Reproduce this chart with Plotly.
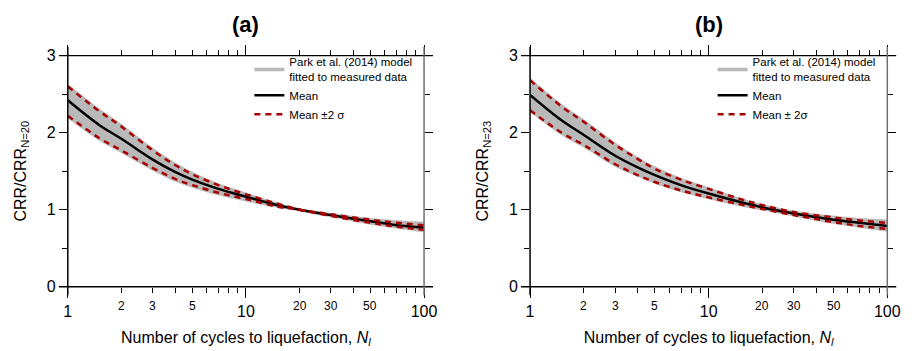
import math
import plotly.graph_objects as go

# ---------------- data ----------------
N = [1, 1.5, 2, 3, 4, 5, 7, 10, 15, 20, 30, 50, 70, 100]

# panel (a) – normalised to N = 20
a_mean  = [2.42, 2.10, 1.92, 1.65, 1.49, 1.39, 1.27, 1.17, 1.06, 1.00, 0.93, 0.85, 0.80, 0.77]
a_upper = [2.60, 2.28, 2.08, 1.77, 1.58, 1.46, 1.32, 1.20, 1.08, 1.00, 0.94, 0.87, 0.83, 0.80]
a_lower = [2.22, 1.93, 1.77, 1.54, 1.40, 1.32, 1.22, 1.14, 1.04, 1.00, 0.92, 0.83, 0.78, 0.74]
a_band_hi = [2.63, 2.31, 2.11, 1.80, 1.61, 1.49, 1.34, 1.22, 1.09, 1.015, 0.955, 0.89, 0.86, 0.84]
a_band_lo = [2.19, 1.90, 1.74, 1.51, 1.37, 1.29, 1.19, 1.11, 1.03, 0.985, 0.905, 0.81, 0.76, 0.71]

# panel (b) – normalised to N = 23
b_mean  = [2.49, 2.16, 1.97, 1.70, 1.55, 1.45, 1.32, 1.21, 1.10, 1.03, 0.95, 0.87, 0.83, 0.79]
b_upper = [2.68, 2.34, 2.14, 1.84, 1.66, 1.53, 1.39, 1.27, 1.14, 1.06, 0.97, 0.90, 0.86, 0.83]
b_lower = [2.29, 2.00, 1.84, 1.59, 1.45, 1.36, 1.25, 1.16, 1.07, 1.01, 0.93, 0.84, 0.79, 0.75]
b_band_hi = [2.71, 2.37, 2.17, 1.87, 1.68, 1.56, 1.41, 1.29, 1.15, 1.07, 0.985, 0.92, 0.89, 0.87]
b_band_lo = [2.27, 1.97, 1.81, 1.56, 1.43, 1.34, 1.23, 1.14, 1.05, 0.995, 0.915, 0.82, 0.77, 0.72]

x_major = [1, 10, 100]
x_major_text = ["1", "10", "100"]
x_small = [2, 3, 5, 20, 30, 50]
x_minor = [2, 3, 4, 5, 6, 7, 8, 9, 20, 30, 40, 50, 60, 70, 80, 90]
y_major = [0, 1, 2, 3]
y_minor = [0.5, 1.5, 2.5]

panels = [
    dict(tag="(a)", x="x", y="y", xa="xaxis", ya="yaxis", legend="legend",
         ylab="CRR/CRR<sub>N=20</sub>", pm="Mean \u00b12 \u03c3",
         mean=a_mean, up=a_upper, lo=a_lower, bh=a_band_hi, bl=a_band_lo,
         dom=[65 / 916, 428 / 916]),
    dict(tag="(b)", x="x2", y="y2", xa="xaxis2", ya="yaxis2", legend="legend2",
         ylab="CRR/CRR<sub>N=23</sub>", pm="Mean \u00b1 2\u03c3",
         mean=b_mean, up=b_upper, lo=b_lower, bh=b_band_hi, bl=b_band_lo,
         dom=[536 / 916, 900 / 916]),
]

FONT = "Arial, Liberation Sans, sans-serif"
GRAY = "#b9b9b9"
RED = "#a80000"

fig = go.Figure()
annotations = []
shapes = []
layout = {}

H, W = 351, 916
ydom = [1 - 293 / H, 1 - 50 / H]

for p in panels:
    xr, yr = p["x"], p["y"]
    # gray band (Park et al. model fitted to data)
    fig.add_trace(go.Scatter(x=N, y=p["bh"], xaxis=xr, yaxis=yr, mode="lines",
                             line=dict(color=GRAY, width=0.5, shape="spline"),
                             showlegend=False, hoverinfo="skip", legend=p["legend"]))
    fig.add_trace(go.Scatter(x=N, y=p["bl"], xaxis=xr, yaxis=yr, mode="lines",
                             line=dict(color=GRAY, width=0.5, shape="spline"),
                             fill="tonexty", fillcolor=GRAY,
                             showlegend=False, hoverinfo="skip", legend=p["legend"]))
    # legend entry for band
    fig.add_trace(go.Scatter(x=[None], y=[None], xaxis=xr, yaxis=yr, mode="lines",
                             line=dict(color=GRAY, width=3.5),
                             name="Park et al. (2014) model<br>fitted to measured data",
                             legend=p["legend"]))
    fig.add_trace(go.Scatter(x=N, y=p["mean"], xaxis=xr, yaxis=yr, mode="lines",
                             line=dict(color="black", width=2.5, shape="spline"),
                             name="Mean", legend=p["legend"]))
    fig.add_trace(go.Scatter(x=N, y=p["up"], xaxis=xr, yaxis=yr, mode="lines",
                             line=dict(color=RED, width=2.5, dash="6px,5px", shape="spline"),
                             name=p["pm"], legend=p["legend"]))
    fig.add_trace(go.Scatter(x=N, y=p["lo"], xaxis=xr, yaxis=yr, mode="lines",
                             line=dict(color=RED, width=2.5, dash="6px,5px", shape="spline"),
                             showlegend=False, legend=p["legend"]))

    layout[p["xa"]] = dict(
        type="log", range=[0, 2], domain=p["dom"], anchor=yr,
        showline=False, mirror="ticks", ticks="outside", ticklen=10, tickwidth=1,
        tickcolor="black", tickmode="array", tickvals=x_major, ticktext=x_major_text,
        tickfont=dict(size=16, family=FONT, color="black"),
        minor=dict(tickmode="array", tickvals=x_minor, ticks="outside", ticklen=5,
                   tickwidth=1, tickcolor="black", showgrid=False),
        showgrid=False, zeroline=False,
        title=dict(text="Number of cycles to liquefaction, <i>N<sub>l</sub></i>",
                   font=dict(size=16, family=FONT, color="black"), standoff=12),
    )
    layout[p["ya"]] = dict(
        range=[0, 3], domain=ydom, anchor=xr,
        showline=False, mirror="ticks", ticks="outside", ticklen=8, tickwidth=1,
        tickcolor="black", tickmode="array", tickvals=y_major,
        tickfont=dict(size=16, family=FONT, color="black"),
        minor=dict(tickmode="array", tickvals=y_minor, ticks="outside", ticklen=5,
                   tickwidth=1, tickcolor="black", showgrid=False),
        showgrid=False, zeroline=False,
        title=dict(text=p["ylab"], font=dict(size=16, family=FONT, color="black"),
                   standoff=16),
    )

    xd = xr + " domain"
    yd = yr + " domain"
    ex, ey = 0.025, 0.037
    # frame lines extending past the corners
    shapes += [
        dict(type="line", xref=xd, yref=yd, x0=-ex, x1=1 + ex, y0=0, y1=0,
             line=dict(color="black", width=1.5)),
        dict(type="line", xref=xd, yref=yd, x0=-ex, x1=1 + ex, y0=1, y1=1,
             line=dict(color="black", width=1.2)),
        dict(type="line", xref=xd, yref=yd, x0=0, x1=0, y0=-ey, y1=1 + ey,
             line=dict(color="black", width=1.5)),
        dict(type="line", xref=xd, yref=yd, x0=1, x1=1, y0=-ey, y1=1 + ey,
             line=dict(color="#707070", width=1.5)),
    ]
    # small tick labels
    for v in x_small:
        annotations.append(dict(x=math.log10(v), xref=xr, y=-0.045, yref=yd,
                                text=str(v), showarrow=False, yanchor="top",
                                font=dict(size=12, family=FONT, color="black")))
    # panel tag
    annotations.append(dict(x=0.5, xref=xd, y=1 - 17 / H, yref="paper", text="<b>" + p["tag"] + "</b>",
                            showarrow=False, yanchor="middle",
                            font=dict(size=22, family=FONT, color="black")))

for key, xpos in (("legend", 250), ("legend2", 722)):
    layout[key] = dict(x=xpos / W, y=1 - 42 / H, xanchor="left", yanchor="top",
                       traceorder="normal", bgcolor="rgba(0,0,0,0)",
                       font=dict(size=11.5, family=FONT, color="black"),
                       tracegroupgap=0, itemwidth=30)

fig.update_layout(
    width=W, height=H,
    margin=dict(l=0, r=0, t=0, b=0),
    paper_bgcolor="white", plot_bgcolor="white",
    font=dict(family=FONT, color="black"),
    annotations=annotations, shapes=shapes,
    **layout,
)

fig.write_html("out.html")
